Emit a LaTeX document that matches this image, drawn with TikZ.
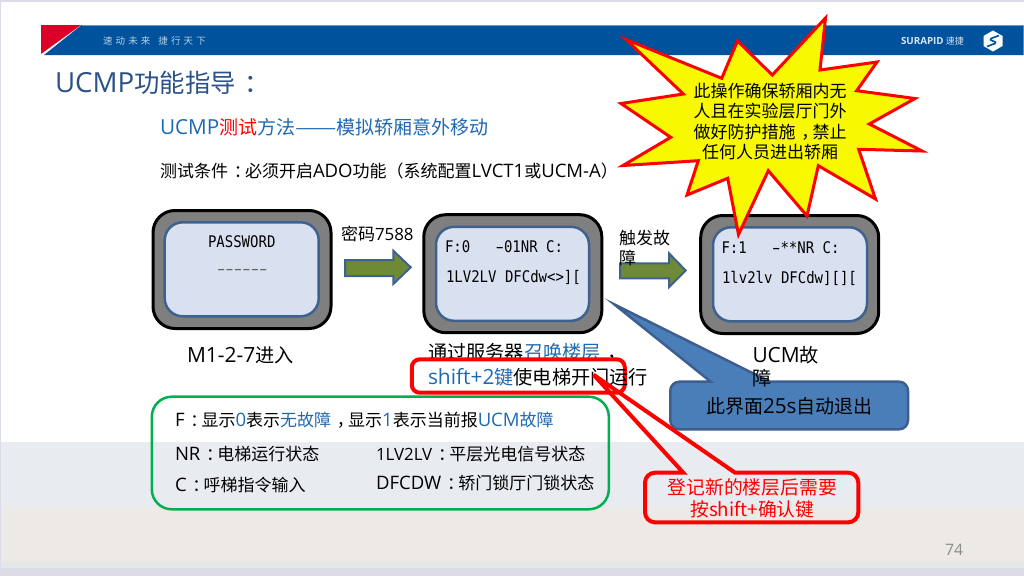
\documentclass[tikz,border=0pt]{standalone}
\usepackage{fontspec}
\setmainfont{Noto Sans CJK SC}
\newfontfamily\latfont[Scale=1.09]{Open Sans}
\newfontfamily\scrfont[FakeStretch=0.875]{DejaVu Sans Mono}
\newfontfamily\tagfont[LetterSpace=33]{Noto Sans CJK SC}
\newcommand\La[1]{{\latfont #1}}
% Latin set a little tighter, for the runs of digits and narrow capitals
\newcommand\Lb[1]{{\latfont\fontsize{15.5}{20}\selectfont #1}}
% full-width punctuation placed in the middle of its em box
\newcommand\Fc{\makebox[1em][l]{\hspace{.34em}：}}
\newcommand\Fm{\makebox[1em][l]{\hspace{.34em}，}}
% long minus sign of the display font, one character cell wide
\newcommand\Hy{\makebox[8.43pt]{\scalebox{1.7}[1]{-}}}
\definecolor{bandA}{HTML}{E8ECF1}
\definecolor{bandB}{HTML}{EDE9E6}
\definecolor{bandC}{HTML}{E2E8E8}
\definecolor{frameEdge}{HTML}{DCDCE8}
\definecolor{banner}{HTML}{00529C}
\definecolor{bannerEdge}{HTML}{6F97C2}
\definecolor{flagRed}{HTML}{DC0028}
\definecolor{titleBlue}{HTML}{2A5289}
\definecolor{textBlue}{HTML}{1F69B3}
\definecolor{lcd}{HTML}{D9E0EF}
\definecolor{lcdEdge}{HTML}{3E6290}
\definecolor{caseGrey}{HTML}{7F7F7F}
\definecolor{arrowFill}{HTML}{6F8A37}
\definecolor{noteBlue}{HTML}{4A7EB8}
\definecolor{noteEdge}{HTML}{3C5F8F}
\definecolor{boxGreen}{HTML}{00B050}
\definecolor{starYellow}{HTML}{F8F800}
\tikzset{
  txt/.style={anchor=west,inner sep=0pt,outer sep=0pt},
  ctr/.style={anchor=center,inner sep=0pt,outer sep=0pt,align=center},
  caseBox/.style={draw=black,line width=3pt,fill=caseGrey,rounded corners=22pt,minimum width=178pt,minimum height=118pt,inner sep=0pt},
  lcdBox/.style={draw=lcdEdge,line width=2.5pt,fill=lcd,rounded corners=18pt,minimum width=154pt,minimum height=94pt,inner sep=0pt},
  blockArrow/.style={draw=lcdEdge,line width=2pt,fill=arrowFill,miter limit=10},
  scr/.style={txt,font=\fontsize{16}{19}\scrfont},
  f19/.style={font=\fontsize{19.2}{23}\selectfont},
  f17/.style={font=\fontsize{17}{20}\selectfont},
}
\begin{document}
\begin{tikzpicture}[x=1pt,y=-1pt]
\useasboundingbox (0,0) rectangle (1024,576);
% page and footer bands
\fill[frameEdge] (0,0) rectangle (1024,576);
\fill[white] (1,2) rectangle (1023.5,442);
\fill[bandA] (1,442) rectangle (1023.5,507);
\fill[bandB] (1,507) rectangle (1023.5,562);
\fill[bandC] (1,562) rectangle (1023.5,568);
% banner
\fill[banner] (81.5,25) -- (1023.5,25) -- (1023.5,55) -- (44,55) -- cycle;
\draw[bannerEdge,line width=1pt] (81.5,25) -- (1023.5,25);
\fill[flagRed] (41,25) -- (81,25) -- (41,54) -- cycle;
\node[txt,text=white!72!banner,font=\fontsize{9.5}{11}\tagfont] (tag) at (103,41) {速动未来\hspace{8pt}捷行天下};
\node[txt,text=white!85!banner,font=\fontsize{9}{10}\selectfont] (brand) at (901,41) {{\latfont\bfseries SURAPID} 速捷};
\fill[white] (993,30.5) -- (1002.5,36) -- (1002.5,46) -- (993,51.5) -- (983.5,46) -- (983.5,36) -- cycle;
\draw[banner,line width=1.6pt] (999,35.5) -- (991,38.5) .. controls (987,40.5) and (999,41.5) .. (995,43.5) -- (987,46.5);
% headings
\node[txt,text=titleBlue,font=\fontsize{25.4}{30}\selectfont] (title) at (55,83) {\La{UCMP}功能指导\Fc};
\node[txt,text=textBlue,font=\fontsize{19}{23}\selectfont] (sub) at (160,127) {\La{UCMP}\textcolor{red}{测试}方法\scalebox{1.3}[1]{——}模拟轿厢意外移动};
\node[txt,f17] (cond) at (160,171) {测试条件\Fc 必须开启\La{ADO}功能（系统配置\La{LVCT1}或\La{UCM-A}）};
% three display screens
\node[caseBox] (case1) at (242,269.5) {};
\node[lcdBox] (lcd1) at (241.7,269.3) {};
\node[caseBox] (case2) at (512.8,273.7) {};
\node[lcdBox,minimum width=153pt] (lcd2) at (512.5,273.8) {};
\node[caseBox] (case3) at (789.7,274.5) {};
\node[lcdBox] (lcd3) at (790,274.3) {};
\node[scr] (pw) at (208,242) {PASSWORD};
\node[scr,text=black!60] (pwd) at (217,272) {\Hy\Hy\Hy\Hy\Hy\Hy};
\node[scr] (a1) at (445,247) {F:0~~~\Hy 01NR C:};
\node[scr] (a2) at (446,277) {1LV2LV DFCdw<>][};
\node[scr] (b1) at (721.5,248) {F:1~~~\Hy **NR C:};
\node[scr] (b2) at (722,278) {1lv2lv DFCdw][][};
% block arrows between the screens
\draw[blockArrow] (345,260) -- (393.3,260) -- (393.3,250.7) -- (410.7,267.3) -- (393.3,284) -- (393.3,276) -- (345,276) -- cycle;
\draw[blockArrow] (620,263.3) -- (669,263.3) -- (669,253.3) -- (685.7,270.5) -- (669,287.3) -- (669,278.3) -- (620,278.3) -- cycle;
\node[txt,f17] (pwl) at (341,234) {密码\Lb{7588}};
\node[txt,f17,align=left] (trl) at (619,247.5) {触发故\\障};
% blue note with pointer
\draw[draw=noteEdge,line width=2.5pt,fill=noteBlue,miter limit=10] (614.5,304.5) -- (770,381.7)
  [rounded corners=9pt] -- (908,381.7) -- (908,429.3) -- (670.3,429.3) -- (670.3,381.7)
  [sharp corners] -- (710.7,381.7) -- cycle;
\node[ctr,font=\fontsize{19}{23}\selectfont] (notetxt) at (789.3,406) {此界面\La{25s}自动退出};
% captions
\node[txt,f19] (c1) at (187,355) {\La{M1-2-7}进入};
\node[txt,f19,align=left] (c3) at (752.5,366.5) {\La{UCM}故\\障};
\node[txt,f19] (c2) at (428,352.5) {通过服务器\textcolor{textBlue}{召唤楼层}\Fm};
% red frame around the key hint
\node[draw=red,line width=4pt,fill=white,rounded corners=8pt,minimum width=213pt,minimum height=33.4pt,inner sep=0pt] (hint) at (518.3,376) {};
\node[txt,f19] (c2b) at (428,377.5) {\textcolor{textBlue}{\La{shift+2}键}使电梯开门运行};
% green legend box
\node[draw=boxGreen,line width=2.5pt,rounded corners=20pt,minimum width=457pt,minimum height=112.6pt,inner sep=0pt] (legend) at (380.3,453) {};
\node[txt,f17] (l1) at (175,420.7) {\La{F}\Fc 显示\textcolor{textBlue}{\La{0}}表示\textcolor{textBlue}{无故障}\Fm 显示\textcolor{textBlue}{\La{1}}表示当前报\textcolor{textBlue}{\La{UCM}故障}};
\node[txt,f17] (l2) at (175,454.3) {\La{NR}\Fc 电梯运行状态};
\node[txt,f17] (l3) at (175,485) {\La{C}\Fc 呼梯指令输入};
\node[txt,f17] (l4) at (376,454.3) {\Lb{1LV2LV}\Fc 平层光电信号状态};
\node[txt,f17] (l5) at (376,483.3) {\La{DFCDW}\Fc 轿门锁厅门锁状态};
% red note, its pointer reaching into the hint frame
\draw[draw=red,line width=4pt,miter limit=4] (683.3,472.7)
  [rounded corners=10pt] -- (645,472.7) -- (645,522.3) -- (858.3,522.3) -- (858.3,472.7)
  [sharp corners] -- (735,472.7) -- (593.5,374.7) -- cycle;
\node[ctr,text=red,font=\fontsize{18.8}{21.5}\selectfont] (redtxt) at (752.3,498.5) {登记新的楼层后需要\\按shift+确认键};
% warning star
\draw[draw=red,line width=3pt,fill=starYellow,miter limit=10]
  (626,39.5) -- (721.7,78.3) -- (737.5,41) -- (772.3,75) -- (825.5,18) -- (820,70)
  -- (877,62) -- (856.7,90.7) -- (915,98.5) -- (869.3,124) -- (922,151) -- (858.7,149.3)
  -- (875.5,199) -- (818.3,165.7) -- (807,216) -- (768.3,170.7) -- (738.5,234.5) -- (727.7,178.3)
  -- (687,195) -- (698.3,160.7) -- (623,165.5) -- (670.7,137.3) -- (621,103.5) -- (683.3,94) -- cycle;
\node[ctr,font=\fontsize{17}{20.5}\selectfont] (startxt) at (770,121.5) {此操作确保轿厢内无\\人且在实验层厅门外\\做好防护措施\Fm 禁止\\任何人员进出轿厢};
% page number
\node[txt,text=black!45,font=\fontsize{14.5}{17}\latfont] (pg) at (945,550) {74};
\end{tikzpicture}
\end{document}
